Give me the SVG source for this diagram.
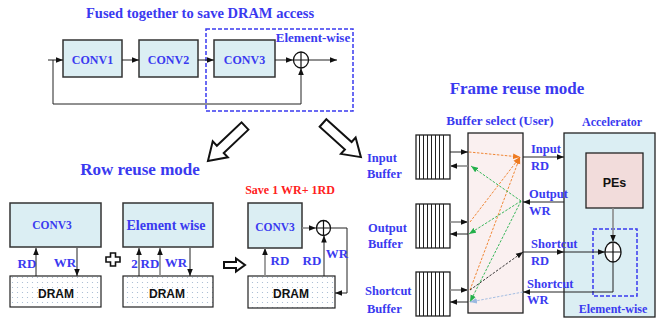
<svg xmlns="http://www.w3.org/2000/svg" width="665" height="323" viewBox="0 0 665 323">
<defs>
<style>
.bx{fill:#dbeef3;stroke:#333;stroke-width:1.5}
.dr{fill:url(#dots);stroke:#222;stroke-width:1.2}
.t{font-family:"Liberation Serif",serif;font-weight:bold;fill:#3a3af0}
.s{font-family:"Liberation Sans",Arial,sans-serif;font-weight:bold;fill:#111}
.ln{fill:none;stroke:#222;stroke-width:1}
.gl{fill:none;stroke:#8a8a8a;stroke-width:1.6}
.dash{fill:none;stroke:#3a3af0;stroke-width:1.5;stroke-dasharray:4 2}
.hol{fill:#fff;stroke:#111;stroke-width:2;stroke-linejoin:miter}
.buf{fill:#fff;stroke:#222;stroke-width:1.3}
</style>
<pattern id="dots" width="5" height="5" patternUnits="userSpaceOnUse"><rect width="5" height="5" fill="#fff"/><circle cx="2.5" cy="2.5" r="0.6" fill="#9fb6d0"/></pattern>
<marker id="ah" viewBox="0 0 10 10" refX="10" refY="5" markerWidth="7" markerHeight="7" markerUnits="userSpaceOnUse" orient="auto"><path d="M0,1 L10,5 L0,9 z" fill="#111"/></marker>
<marker id="ao" viewBox="0 0 10 10" refX="10" refY="5" markerWidth="7" markerHeight="7" markerUnits="userSpaceOnUse" orient="auto"><path d="M0,1 L10,5 L0,9 z" fill="#ee7a20"/></marker>
<marker id="ag" viewBox="0 0 10 10" refX="10" refY="5" markerWidth="7" markerHeight="7" markerUnits="userSpaceOnUse" orient="auto"><path d="M0,1 L10,5 L0,9 z" fill="#22b04a"/></marker>
<marker id="ab" viewBox="0 0 10 10" refX="10" refY="5" markerWidth="7" markerHeight="7" markerUnits="userSpaceOnUse" orient="auto"><path d="M0,1 L10,5 L0,9 z" fill="#9ab8e0"/></marker>
<g id="hbuf"><rect class="buf" x="0" y="0" width="34" height="44"/><path d="M3.5,0V44M7.5,0V44M11.5,0V44M15.5,0V44M19.5,0V44M23.5,0V44M27.5,0V44" stroke="#222" stroke-width="1"/></g>
<path id="bigarrow" d="M0,-5 L34,-5 L34,-11 L51,0 L34,11 L34,5 L0,5 Z"/>
</defs>
<rect width="665" height="323" fill="#fff"/>

<!-- Top fused section -->
<text class="t" x="200" y="18" font-size="14.5" text-anchor="middle">Fused together to save DRAM access</text>
<g id="conv1"><rect class="bx" x="63" y="40" width="59" height="37"/><text class="t" x="92.5" y="64" font-size="12" text-anchor="middle">CONV1</text></g>
<g id="conv2"><rect class="bx" x="139" y="40" width="59" height="37"/><text class="t" x="168.5" y="64" font-size="12" text-anchor="middle">CONV2</text></g>
<g id="conv3"><rect class="bx" x="214" y="40" width="61" height="37"/><text class="t" x="244.5" y="64" font-size="12" text-anchor="middle">CONV3</text></g>
<g id="add1"><ellipse cx="301" cy="60" rx="7.5" ry="8" fill="#fff" stroke="#111" stroke-width="1.3"/><path d="M293.5,60H308.5M301,52V68" stroke="#111" stroke-width="1.2"/></g>
<g id="ew1"><rect class="dash" x="206" y="29" width="147" height="82"/><text class="t" x="313" y="42" font-size="13" text-anchor="middle">Element-wise</text></g>

<g id="top-connectors">
<path class="ln" d="M48,60H63" marker-end="url(#ah)"/>
<path class="ln" d="M122,60H139" marker-end="url(#ah)"/>
<path class="ln" d="M198,60H214" marker-end="url(#ah)"/>
<path class="ln" d="M275,60H293" marker-end="url(#ah)"/>
<path class="ln" d="M308.5,60H337" marker-end="url(#ah)"/>
<path class="ln" d="M53,60V104H301V68" marker-end="url(#ah)"/>
</g>

<!-- big hollow arrows -->
<use href="#bigarrow" class="hol" transform="translate(245,126) rotate(136.6)"/>
<use href="#bigarrow" class="hol" transform="translate(323,123) rotate(42)"/>

<!-- Row reuse mode -->
<text class="t" x="140" y="175" font-size="17" text-anchor="middle">Row reuse mode</text>

<g id="rr-conv3"><rect class="bx" x="10" y="203" width="91" height="44"/><text class="t" x="52" y="229" font-size="11.5" text-anchor="middle">CONV3</text></g>
<g id="rr-dram1"><rect class="dr" x="10" y="276" width="91" height="31"/><text class="s" x="56" y="298" font-size="12" text-anchor="middle">DRAM</text></g>
<g id="rr-ew"><rect class="bx" x="123" y="203" width="90" height="44"/><text class="t" x="166" y="230" font-size="14" text-anchor="middle">Element wise</text></g>
<g id="rr-dram2"><rect class="dr" x="123" y="276" width="90" height="31"/><text class="s" x="167" y="298" font-size="12" text-anchor="middle">DRAM</text></g>
<g id="plus"><path d="M110.5,253H115.5V257H120V262H115.5V266H110.5V262H106V257H110.5Z" fill="#fff" stroke="#111" stroke-width="1.6"/></g>
<g id="small-arrow"><path class="hol" d="M224,262H236V258.5L245,265L236,271.5V268H224Z" stroke-width="1.6"/></g>

<text x="290" y="194" font-family="Liberation Serif,serif" font-weight="bold" font-size="12" fill="#ff2020" text-anchor="middle">Save 1 WR+ 1RD</text>
<g id="rr-conv3b"><rect class="bx" x="248" y="203" width="54" height="45"/><text class="t" x="275" y="231" font-size="11.5" text-anchor="middle">CONV3</text></g>
<g id="rr-dram3"><rect class="dr" x="248" y="276" width="87" height="32"/><text class="s" x="291" y="298" font-size="12" text-anchor="middle">DRAM</text></g>
<g id="add2"><ellipse cx="323.5" cy="228" rx="7" ry="7.5" fill="#fff" stroke="#111" stroke-width="1.3"/><path d="M316.5,228H330.5M323.5,220.5V235.5" stroke="#111" stroke-width="1.2"/></g>

<g id="rr-connectors">
<path class="ln" d="M36,276V248" marker-end="url(#ah)"/>
<path class="ln" d="M77,248V276" marker-end="url(#ah)"/>
<path class="ln" d="M139,276V248" marker-end="url(#ah)"/>
<path class="gl" d="M160,276V248" marker-end="url(#ah)"/>
<path class="ln" d="M190,248V276" marker-end="url(#ah)"/>
<path class="gl" d="M265,276V248" marker-end="url(#ah)"/>
<path class="gl" d="M302,228H316" marker-end="url(#ah)"/>
<path class="ln" d="M324,276V235.5" marker-end="url(#ah)"/>
<path class="ln" d="M330.5,228H347V293H335" marker-end="url(#ah)"/>
</g>
<g font-size="13">
<text class="t" x="27" y="268" text-anchor="middle">RD</text>
<text class="t" x="65" y="267" text-anchor="middle">WR</text>
<text class="t" x="134.5" y="268" text-anchor="middle">2</text>
<text class="t" x="150" y="268" text-anchor="middle">RD</text>
<text class="t" x="176" y="267" text-anchor="middle">WR</text>
<text class="t" x="280" y="265" text-anchor="middle">RD</text>
<text class="t" x="312" y="265" text-anchor="middle">RD</text>
<text class="t" x="337" y="258" text-anchor="middle">WR</text>
</g>

<!-- Frame reuse mode -->
<text class="t" x="517" y="94" font-size="17" text-anchor="middle">Frame reuse mode</text>
<text class="t" x="500" y="125" font-size="13" text-anchor="middle">Buffer select (User)</text>
<text class="t" x="612" y="126" font-size="12" text-anchor="middle">Accelerator</text>

<g id="in-buf"><use href="#hbuf" x="416" y="135"/><text class="t" font-size="12.5"><tspan x="367" y="162">Input</tspan><tspan x="367" y="178">Buffer</tspan></text></g>
<g id="out-buf"><use href="#hbuf" x="416" y="204"/><text class="t" font-size="12.5"><tspan x="368" y="232">Output</tspan><tspan x="368" y="248">Buffer</tspan></text></g>
<g id="sc-buf"><use href="#hbuf" x="416" y="272"/><text class="t" font-size="12.5"><tspan x="365" y="295">Shortcut</tspan><tspan x="367" y="313">Buffer</tspan></text></g>

<g id="bufsel"><rect x="468" y="133" width="55" height="180" fill="#faf0f0" stroke="#222" stroke-width="1.3"/></g>
<g id="accel"><rect x="564" y="133" width="91" height="184" fill="#dbeef3" stroke="#222" stroke-width="1.3"/></g>
<g id="pes"><rect x="586" y="153" width="57" height="55" fill="#f2dcdb" stroke="#222" stroke-width="1.3"/><text class="s" x="614.5" y="187" font-size="12.5" text-anchor="middle">PEs</text></g>
<g id="ew2"><rect class="dash" x="593" y="229" width="44" height="67"/><text class="t" x="613" y="313" font-size="12" text-anchor="middle">Element-wise</text></g>
<g id="add3"><ellipse cx="613" cy="252" rx="8" ry="10" fill="#fff" stroke="#111" stroke-width="1.3"/><path d="M605,252H621M613,242V262" stroke="#111" stroke-width="1.2"/></g>

<g id="fr-connectors">
<path class="ln" d="M450,152H468" marker-end="url(#ah)"/>
<path class="gl" d="M468,166H450" marker-end="url(#ah)"/>
<path class="gl" d="M450,222H468" marker-end="url(#ah)"/>
<path class="ln" d="M468,234H450" marker-end="url(#ah)"/>
<path class="gl" d="M450,290H468" marker-end="url(#ah)"/>
<path class="ln" d="M468,302H450" marker-end="url(#ah)"/>

<g stroke-width="0.9" stroke-dasharray="2.5 1.5" fill="none">
<path d="M469,152L520,157" stroke="#ee7a20" marker-end="url(#ao)"/>
<path d="M470,222L520,157" stroke="#ee7a20" marker-end="url(#ao)"/>
<path d="M470,290L520,157" stroke="#ee7a20" marker-end="url(#ao)"/>
<path d="M521,201L471,166" stroke="#22b04a" marker-end="url(#ag)"/>
<path d="M521,201L469,234" stroke="#22b04a" marker-end="url(#ag)"/>
<path d="M521,201L470,302" stroke="#22b04a" marker-end="url(#ag)"/>
<path d="M470,290L523,252" stroke="#222" marker-end="url(#ah)"/>
<path d="M523,292L470,302" stroke="#9ab8e0" marker-end="url(#ab)"/>
</g>

<path class="ln" d="M523,157H564" marker-end="url(#ah)"/>
<path class="ln" d="M564,202H523" marker-end="url(#ah)"/>
<path class="ln" d="M523,252H564" marker-end="url(#ah)"/>
<path class="ln" d="M564,252H605" marker-end="url(#ah)"/>
<path class="ln" d="M613,262V292H523" marker-end="url(#ah)"/>
<path class="gl" d="M613,208V242" marker-end="url(#ah)"/>
</g>
<g class="t" font-size="12.5">
<text class="t" x="531" y="153">Input</text>
<text class="t" x="531" y="170">RD</text>
<text class="t" x="529" y="198">Output</text>
<text class="t" x="529" y="215">WR</text>
<text class="t" x="531" y="248">Shortcut</text>
<text class="t" x="531" y="265">RD</text>
<text class="t" x="527" y="288">Shortcut</text>
<text class="t" x="527" y="304">WR</text>
</g>
</svg>
